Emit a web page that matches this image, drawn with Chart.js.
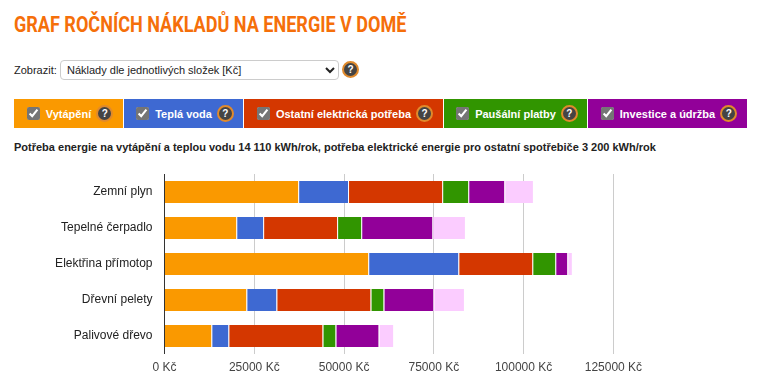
<!DOCTYPE html>
<html lang="cs">
<head>
<meta charset="utf-8">
<title>Graf ročních nákladů na energie v domě</title>
<script src="https://cdn.jsdelivr.net/npm/chart.js@4"></script>
<style>
  html, body { margin: 0; padding: 0; background: #fff; overflow: hidden; }
  body { width: 761px; height: 390px; position: relative; font-family: "Liberation Sans", Arial, sans-serif; color: #222; }
  h1 { position: absolute; left: 14px; top: 12px; margin: 0; font: 700 22px Roboto, sans-serif; color: #f56f0a; white-space: nowrap; transform-origin: left top; transform: scaleX(0.82); }
  .pick { position: absolute; left: 14px; top: 64px; font-size: 11px; }
  select { position: absolute; left: 60px; top: 60px; width: 279px; height: 20px; font: 11px "Liberation Sans", Arial, sans-serif; padding: 0 0 0 2px; border: 1px solid #ccc; border-radius: 4px; background: #fff; color: #222; }
  .help { display: inline-block; box-sizing: border-box; width: 17px; height: 17px; border-radius: 50%; background: #444; border: 2px solid #e08a2c; color: #fff; font: 700 10px/13px "Liberation Sans", Arial, sans-serif; text-align: center; }
  .help.top { position: absolute; left: 342px; top: 61px; }
  .cell { position: absolute; top: 99px; height: 29px; box-sizing: border-box; padding-left: 3px; color: #fff; font-size: 11px; font-weight: 700; display: flex; align-items: center; justify-content: center; white-space: nowrap; }
  .cell input { width: 13px; height: 13px; margin: 0 6px 0 0; accent-color: #757575; }
  .cell .help { margin-left: 5px; }
  .note { position: absolute; left: 14px; top: 141px; font-size: 11px; font-weight: 700; white-space: nowrap; }
  .wrap { position: absolute; left: 0; top: 174px; width: 761px; height: 216px; }
</style>
</head>
<body>
<h1>GRAF ROČNÍCH NÁKLADŮ NA ENERGIE V DOMĚ</h1>
<span class="pick">Zobrazit:</span>
<select><option>Náklady dle jednotlivých složek [Kč]</option></select>
<span class="help top">?</span>
<div id="cells"></div>
<div class="note">Potřeba energie na vytápění a teplou vodu 14 110 kWh/rok, potřeba elektrické energie pro ostatní spotřebiče 3 200 kWh/rok</div>
<div class="wrap"><canvas id="costChart" width="761" height="216"></canvas></div>

<script>
const categories = ['Zemní plyn', 'Tepelné čerpadlo', 'Elektřina přímotop', 'Dřevní pelety', 'Palivové dřevo'];
const seriesNames = ['Vytápění', 'Teplá voda', 'Ostatní elektrická potřeba', 'Paušální platby', 'Investice a údržba'];

const heating = [37480, 20230, 56980, 23030, 13280];
const hotWater = [13900, 7500, 25080, 8360, 4740];
const otherElectric = [26200, 20600, 20600, 26200, 26200];
const flatFees = [7250, 6700, 6400, 3620, 3620];
const investment = [10030, 19800, 3340, 13900, 12000];
const investmentExtra = [8000, 9100, 1300, 8550, 4100];

const tickValues = [0, 25000, 50000, 75000, 100000, 125000];

const colors = ['#fa9900', '#3e69d2', '#d43700', '#319500', '#920099', '#fbccff'];
const cellBoxes = [[14, 109], [124, 119], [244, 199], [444, 143], [588, 159]];

// legend strip above the chart
const cells = document.getElementById('cells');
seriesNames.forEach((name, i) => {
    const el = document.createElement('label');
    el.className = 'cell';
    el.style.left = cellBoxes[i][0] + 'px';
    el.style.width = cellBoxes[i][1] + 'px';
    el.style.background = colors[i];
    el.innerHTML = '<input type="checkbox" checked><span>' + name + '</span><span class="help">?</span>';
    cells.appendChild(el);
});

function barSet(label, data, color) {
    return {
        label: label,
        data: data,
        backgroundColor: color,
        borderColor: '#fff',
        borderWidth: { top: 0, bottom: 0, left: 0, right: 1 },
        borderSkipped: false,
        inflateAmount: 0,
        barThickness: 22
    };
}

new Chart(document.getElementById('costChart').getContext('2d'), {
    type: 'bar',
    data: {
        labels: categories,
        datasets: [
            barSet(seriesNames[0], heating, colors[0]),
            barSet(seriesNames[1], hotWater, colors[1]),
            barSet(seriesNames[2], otherElectric, colors[2]),
            barSet(seriesNames[3], flatFees, colors[3]),
            barSet(seriesNames[4], investment, colors[4]),
            barSet(seriesNames[4] + ' (dotace)', investmentExtra, colors[5])
        ]
    },
    options: {
        indexAxis: 'y',
        responsive: false,
        animation: false,
        layout: { padding: { left: 0, right: 147.6, top: 0, bottom: 0 } },
        plugins: { legend: { display: false }, tooltip: { enabled: false } },
        scales: {
            x: {
                stacked: true,
                min: 0,
                max: 125000,
                afterBuildTicks: axis => { axis.ticks = tickValues.map(v => ({ value: v })); },
                afterFit: axis => { axis.height = 36; axis.paddingTop = 0; axis.paddingBottom = 0; },
                border: { display: false },
                grid: {
                    color: ctx => ctx.tick.value === 0 ? '#333333' : '#cccccc',
                    drawTicks: false
                },
                ticks: {
                    callback: v => v + ' Kč',
                    color: '#444',
                    maxRotation: 0,
                    autoSkip: false,
                    padding: 6,
                    font: { family: '"Liberation Sans", Arial, sans-serif', size: 12 }
                }
            },
            y: {
                stacked: true,
                afterFit: axis => { axis.width = 164.5; axis.paddingTop = 0; axis.paddingBottom = 0; },
                border: { display: false },
                grid: { display: false, drawTicks: false },
                ticks: {
                    color: '#222',
                    padding: 12,
                    font: { family: '"Liberation Sans", Arial, sans-serif', size: 12 }
                }
            }
        }
    }
});
</script>
</body>
</html>
